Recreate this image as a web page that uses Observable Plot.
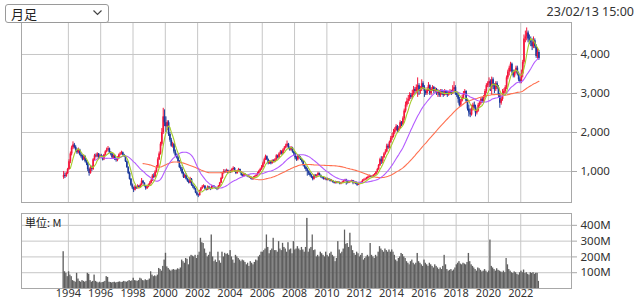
<!DOCTYPE html>
<html><head><meta charset="utf-8">
<script src="https://cdn.jsdelivr.net/npm/d3@7"></script>
<script src="https://cdn.jsdelivr.net/npm/@observablehq/plot@0.6"></script>
<style>
body{margin:0;background:#fff;font-family:"Noto Sans","Noto Sans CJK JP",sans-serif;}
#wrap{position:relative;width:640px;height:301px;overflow:hidden;background:#fff;}
#price,#vol{position:absolute;left:0;}
#price{top:0;} #vol{top:203px;}
#sel{position:absolute;left:5px;top:4px;width:102px;height:17px;border:1px solid #9a9a9a;border-radius:3px;background:#fff;font-size:13px;line-height:17px;color:#222;font-family:"Noto Sans CJK JP",sans-serif;}
#sel span{position:absolute;left:5px;top:0;}
#sel svg{position:absolute;right:6px;top:5px;}
#stamp{position:absolute;right:6px;top:3px;font-size:12.5px;color:#333;}
#unit{position:absolute;left:25px;top:214px;font-size:11px;color:#222;font-family:"Noto Sans CJK JP",sans-serif;}
</style></head><body><div id="wrap">
<div id="price"></div><div id="vol"></div>
<div id="sel"><span>月足</span><svg width="9" height="6"><polyline points="0.5,0.5 4.5,4.5 8.5,0.5" fill="none" stroke="#444" stroke-width="1.2"/></svg></div>
<div id="stamp">23/02/13 15:00</div>
<div id="unit">単位: M</div>
</div>
<script>
// monthly candles from 1993-09 to 2023-02
const open = [
 850,900,870,950,
 1050,1250,1450,1600,1680,1620,1550,1480,1550,1420,1380,1300,
 1380,1250,1200,1050,950,1100,1050,1300,1400,1380,1450,1350,
 1400,1380,1300,1420,1500,1550,1580,1480,1450,1350,1400,1300,
 1280,1350,1420,1450,1480,1420,1380,1250,1100,950,800,650,
 580,520,600,560,620,580,650,750,700,620,560,600,
 650,700,760,880,850,980,1100,1300,1450,1700,2000,2400,
 2250,2150,2250,1950,1800,1650,1700,1500,1400,1350,1250,1100,
 1050,950,850,900,800,750,700,800,650,600,550,450,
 400,380,500,560,600,620,550,520,600,560,540,620,
 600,580,560,540,620,700,820,950,1000,980,1020,960,
 1000,980,1050,1080,1000,950,1000,1050,980,900,880,920,
 900,880,860,850,820,800,850,870,900,950,1000,1050,
 1100,1200,1300,1380,1300,1200,1250,1200,1280,1250,1300,1400,
 1350,1450,1500,1450,1550,1600,1650,1700,1600,1550,1600,1500,
 1450,1350,1300,1400,1350,1300,1250,1150,1100,1050,1000,950,
 900,850,800,900,850,900,950,900,850,830,800,820,
 780,800,780,750,760,720,700,730,700,720,680,700,
 720,750,780,740,700,720,740,760,700,730,680,650,
 680,700,720,760,780,800,820,850,880,870,860,900,
 920,980,1050,1150,1300,1250,1350,1450,1500,1650,1600,1750,
 1850,1900,2000,2050,2150,2050,2100,2250,2200,2350,2550,2700,
 2800,2850,2950,2900,3000,3100,3050,3150,3200,3050,3100,3250,
 3150,3050,3000,3100,3200,3000,3100,3150,3050,3100,3000,3050,
 2950,3050,3000,2950,3050,3000,2950,3000,3050,3000,3100,3150,
 3000,2950,2850,2700,2800,2900,3000,3050,2800,2600,2500,2450,
 2600,2700,2650,2500,2550,2700,2750,2850,2800,2900,3050,3200,
 3250,3300,3150,3350,3200,3100,3250,3150,2950,2750,2850,3000,
 3050,3150,3400,3550,3650,3750,3550,3450,3550,3650,3500,3350,
 3300,3500,3800,4400,4450,4550,4400,4350,4300,4200,4350,4200,
 3950,4050
];
const high = [
 1000,960,980,1080,
 1300,1500,1650,1760,1720,1660,1580,1600,1570,1460,1420,1420,
 1400,1290,1230,1080,1130,1140,1330,1440,1450,1480,1460,1430,
 1440,1400,1440,1530,1600,1640,1600,1510,1470,1430,1420,1330,
 1380,1450,1490,1520,1500,1440,1400,1270,1120,980,820,680,
 600,640,620,660,640,680,820,770,710,640,630,680,
 740,800,920,940,1020,1150,1350,1500,1750,2100,2620,2580,
 2400,2300,2300,2000,1850,1750,1720,1550,1450,1400,1280,1150,
 1100,980,930,940,830,790,850,820,680,620,570,480,
 420,520,590,640,660,640,570,630,620,580,650,640,
 630,600,580,640,720,850,980,1050,1040,1060,1040,1020,
 1030,1080,1120,1100,1020,1030,1080,1060,990,930,950,940,
 920,900,880,870,840,870,890,930,980,1030,1080,1150,
 1240,1340,1420,1400,1320,1280,1270,1300,1300,1330,1430,1420,
 1480,1540,1530,1580,1640,1700,1780,1720,1630,1640,1620,1520,
 1470,1380,1430,1420,1380,1320,1270,1180,1130,1080,1020,980,
 920,870,920,920,920,980,960,910,870,850,840,830,
 830,820,800,790,770,740,750,740,740,730,720,750,
 770,800,800,760,740,760,780,770,750,740,700,700,
 720,740,790,810,830,850,880,910,900,890,920,950,
 1000,1080,1180,1340,1380,1380,1480,1560,1700,1700,1780,1900,
 1980,2080,2120,2200,2180,2150,2300,2280,2400,2600,2780,2880,
 2950,3020,3000,3080,3180,3150,3220,3400,3250,3180,3350,3300,
 3200,3100,3150,3280,3220,3150,3200,3180,3150,3130,3100,3080,
 3100,3100,3050,3100,3080,3050,3050,3100,3080,3200,3300,3200,
 3050,3000,2900,2850,2950,3050,3100,3070,2850,2700,2600,2700,
 2750,2780,2700,2600,2750,2800,2900,2900,2950,3100,3250,3300,
 3400,3350,3420,3400,3250,3300,3300,3200,3000,2900,3100,3120,
 3200,3450,3600,3700,3800,3780,3600,3600,3700,3700,3550,3400,
 3600,3850,4500,4600,4680,4600,4500,4450,4400,4450,4400,4250,
 4150,4100
];
const low = [
 800,820,850,920,
 1030,1200,1400,1560,1580,1500,1440,1450,1400,1340,1270,1280,
 1220,1150,1000,880,930,1000,1030,1280,1350,1350,1320,1330,
 1340,1270,1280,1400,1480,1520,1460,1400,1330,1330,1280,1240,
 1250,1320,1400,1420,1400,1360,1230,1080,920,780,620,540,
 460,500,540,550,560,570,630,680,600,520,540,580,
 630,680,740,820,830,960,1080,1280,1420,1650,1950,2150,
 2000,2050,1900,1750,1620,1600,1450,1380,1320,1220,1080,1000,
 920,820,820,780,720,680,690,620,560,520,430,370,
 330,370,480,540,580,530,500,510,540,510,530,580,
 560,540,510,530,600,690,800,930,950,960,940,950,
 950,960,1030,980,920,930,980,960,880,850,860,880,
 860,840,820,790,770,780,830,850,880,930,980,1030,
 1080,1170,1280,1280,1170,1180,1170,1190,1220,1230,1280,1320,
 1330,1420,1420,1430,1520,1580,1620,1560,1520,1520,1470,1400,
 1300,1260,1270,1320,1280,1220,1120,1060,1000,880,900,860,
 820,760,780,830,830,880,880,830,810,780,780,760,
 760,760,730,730,700,680,680,680,690,660,660,690,
 700,740,650,680,690,710,730,660,680,660,620,640,
 660,680,700,740,760,780,800,830,840,830,840,880,
 900,960,1030,1130,1180,1200,1330,1420,1480,1560,1580,1720,
 1800,1860,1950,2020,2000,2020,2080,2150,2180,2300,2500,2650,
 2720,2800,2850,2860,2950,2980,3000,2900,2950,2980,3050,3100,
 2900,2950,2950,3050,2950,2950,3050,3000,3000,2950,2900,2900,
 2900,2950,2900,2930,2950,2900,2930,2960,2950,2970,3050,2950,
 2900,2750,2650,2650,2780,2850,2950,2750,2550,2400,2380,2420,
 2550,2600,2400,2450,2520,2650,2700,2750,2750,2880,3000,3150,
 3150,3050,2950,3100,3000,3050,3100,2900,2620,2700,2800,2950,
 3000,3100,3350,3450,3550,3500,3400,3400,3500,3450,3300,3250,
 3250,3400,3750,4300,4350,4300,4250,4200,4100,4150,4150,3900,
 3880,3850
];
const close = [
 900,870,950,1050,
 1250,1450,1600,1680,1620,1550,1480,1550,1420,1380,1300,1380,
 1250,1200,1050,950,1100,1050,1300,1400,1380,1450,1350,1400,
 1380,1300,1420,1500,1550,1580,1480,1450,1350,1400,1300,1280,
 1350,1420,1450,1480,1420,1380,1250,1100,950,800,650,580,
 520,600,560,620,580,650,750,700,620,560,600,650,
 700,760,880,850,980,1100,1300,1450,1700,2000,2400,2250,
 2150,2250,1950,1800,1650,1700,1500,1400,1350,1250,1100,1050,
 950,850,900,800,750,700,800,650,600,550,450,400,
 380,500,560,600,620,550,520,600,560,540,620,600,
 580,560,540,620,700,820,950,1000,980,1020,960,1000,
 980,1050,1080,1000,950,1000,1050,980,900,880,920,900,
 880,860,850,820,800,850,870,900,950,1000,1050,1100,
 1200,1300,1380,1300,1200,1250,1200,1280,1250,1300,1400,1350,
 1450,1500,1450,1550,1600,1650,1700,1600,1550,1600,1500,1450,
 1350,1300,1400,1350,1300,1250,1150,1100,1050,1000,950,900,
 850,800,900,850,900,950,900,850,830,800,820,780,
 800,780,750,760,720,700,730,700,720,680,700,720,
 750,780,740,700,720,740,760,700,730,680,650,680,
 700,720,760,780,800,820,850,880,870,860,900,920,
 980,1050,1150,1300,1250,1350,1450,1500,1650,1600,1750,1850,
 1900,2000,2050,2150,2050,2100,2250,2200,2350,2550,2700,2800,
 2850,2950,2900,3000,3100,3050,3150,3200,3050,3100,3250,3150,
 3050,3000,3100,3200,3000,3100,3150,3050,3100,3000,3050,2950,
 3050,3000,2950,3050,3000,2950,3000,3050,3000,3100,3150,3000,
 2950,2850,2700,2800,2900,3000,3050,2800,2600,2500,2450,2600,
 2700,2650,2500,2550,2700,2750,2850,2800,2900,3050,3200,3250,
 3300,3150,3350,3200,3100,3250,3150,2950,2750,2850,3000,3050,
 3150,3400,3550,3650,3750,3550,3450,3550,3650,3500,3350,3300,
 3500,3800,4400,4450,4550,4400,4350,4300,4200,4350,4200,3950,
 4050,3900
];
// monthly volume, millions of shares
const volume = [
 233,106,96,75,
 106,85,75,50,45,40,96,60,45,40,50,45,
 40,45,96,90,50,40,45,85,45,40,35,40,
 35,38,40,45,75,70,40,38,35,38,40,35,
 38,40,42,38,40,45,42,40,45,50,45,48,
 65,50,48,45,50,65,60,50,48,55,50,52,
 60,106,85,75,80,75,85,127,120,110,140,180,
 223,137,127,117,110,117,120,115,117,125,120,130,
 180,170,160,190,185,150,200,210,205,200,210,190,
 210,230,318,290,285,250,223,200,210,230,339,200,
 170,180,165,230,175,160,230,200,223,215,220,210,
 240,200,180,160,210,200,190,180,170,180,175,165,
 150,160,140,170,160,150,165,180,175,200,210,230,
 230,240,250,339,260,220,240,250,318,240,240,230,
 297,250,240,286,260,250,230,290,244,250,220,297,
 244,250,265,250,240,260,244,230,260,444,230,250,
 260,339,240,244,200,210,200,230,220,210,200,230,
 210,200,220,230,210,200,170,190,297,244,220,230,
 250,370,280,285,260,350,270,240,222,210,230,220,
 200,210,222,180,190,200,210,200,285,210,200,190,
 210,200,230,265,250,240,230,250,240,230,244,230,
 244,230,210,180,170,190,200,222,215,200,190,170,
 160,150,170,180,160,150,160,222,170,160,150,140,
 180,160,150,140,160,150,140,130,150,140,130,120,
 130,120,140,210,150,120,110,115,120,110,117,130,
 150,160,170,155,150,160,155,150,165,222,170,150,
 140,130,120,110,130,125,115,105,110,120,110,100,
 110,307,140,130,120,110,125,115,110,105,100,110,
 100,190,150,120,110,100,95,105,100,90,85,100,
 110,100,117,95,100,90,85,100,95,100,90,96,
 96,45
];
const yearTicks = [1994,1996,1998,2000,2002,2004,2006,2008,2010,2012,2014,2016,2018,2020,2022];
const priceTicks = [1000,2000,3000,4000];
const volumeTicks = [100,200,300,400];
const maLengths = {short:6, mid:24, long:60};

const months = d3.utcMonth.range(new Date(Date.UTC(1993,8,1)), new Date(Date.UTC(2023,2,1)));
const data = months.map((d,i)=>({
  date:d, mid:new Date(+d + 14*864e5), next:d3.utcMonth.offset(d,1),
  open:open[i], high:high[i], low:low[i], close:close[i], volume:volume[i],
  dir: close[i] >= open[i] ? "up" : "down"
}));
const yearDates = yearTicks.map(y=>new Date(Date.UTC(y,0,1)));
const xDomain = [new Date(Date.UTC(1991,1,6)), new Date(Date.UTC(2025,1,21))];
const gridColor = "#c6c6c6", frameColor = "#a8a8a8";
const UP = "#f5163c", DOWN = "#1c3a9c";
const font = "\"Noto Sans\",\"Noto Sans CJK JP\",sans-serif";

const price = Plot.plot({
  width:640, height:203, marginTop:22, marginBottom:1, marginLeft:21, marginRight:69,
  style:{fontFamily:font, background:"transparent", overflow:"visible"},
  x:{type:"utc", domain:xDomain, axis:null},
  y:{domain:[205,4820], axis:null},
  color:{domain:["up","down"], range:[UP,DOWN]},
  marks:[
    Plot.gridX(yearDates,{stroke:gridColor, strokeOpacity:1}),
    Plot.gridY(priceTicks,{stroke:gridColor, strokeOpacity:1}),
    Plot.ruleX(data,{x:"mid", y1:"low", y2:"high", stroke:"dir", strokeWidth:1}),
    Plot.ruleX(data,{x:"mid", y1:"open", y2:"close", stroke:"dir", strokeWidth:1.7}),
    Plot.lineY(data, Plot.windowY({k:maLengths.long, anchor:"end", strict:true}, {x:"mid", y:"close", stroke:"#ff7050", strokeWidth:1.1})),
    Plot.lineY(data, Plot.windowY({k:maLengths.mid, anchor:"end", strict:true}, {x:"mid", y:"close", stroke:"#b45cff", strokeWidth:1.1})),
    Plot.lineY(data, Plot.windowY({k:maLengths.short, anchor:"end", strict:true}, {x:"mid", y:"close", stroke:"#a4cc2c", strokeWidth:1.1})),
    Plot.frame({stroke:frameColor}),
    Plot.axisY(priceTicks,{anchor:"right", label:null, tickSize:5, tickPadding:4, stroke:frameColor, fill:"#333", fontSize:11.5, tickFormat:d3.format(",")})
  ]
});
document.getElementById("price").append(price);

const vol = Plot.plot({
  width:640, height:98, marginTop:10, marginBottom:13, marginLeft:21, marginRight:69,
  style:{fontFamily:font, background:"transparent", overflow:"visible"},
  x:{type:"utc", domain:xDomain, axis:null},
  y:{domain:[0,475], axis:null},
  marks:[
    Plot.gridX(yearDates,{stroke:gridColor, strokeOpacity:1}),
    Plot.gridY(volumeTicks,{stroke:gridColor, strokeOpacity:1}),
    Plot.rectY(data,{x1:"date", x2:"next", y:"volume", fill:"#5f5f5f"}),
    Plot.frame({stroke:frameColor}),
    Plot.axisY(volumeTicks,{anchor:"right", label:null, tickSize:5, tickPadding:4, stroke:frameColor, fill:"#333", fontSize:11.5, tickFormat:d=>d+"M"}),
    Plot.axisX(yearDates,{label:null, tickSize:0, tickPadding:1, fill:"#333", fontSize:11, tickFormat:d3.utcFormat("%Y")})
  ]
});
document.getElementById("vol").append(vol);
</script>
</body></html>
